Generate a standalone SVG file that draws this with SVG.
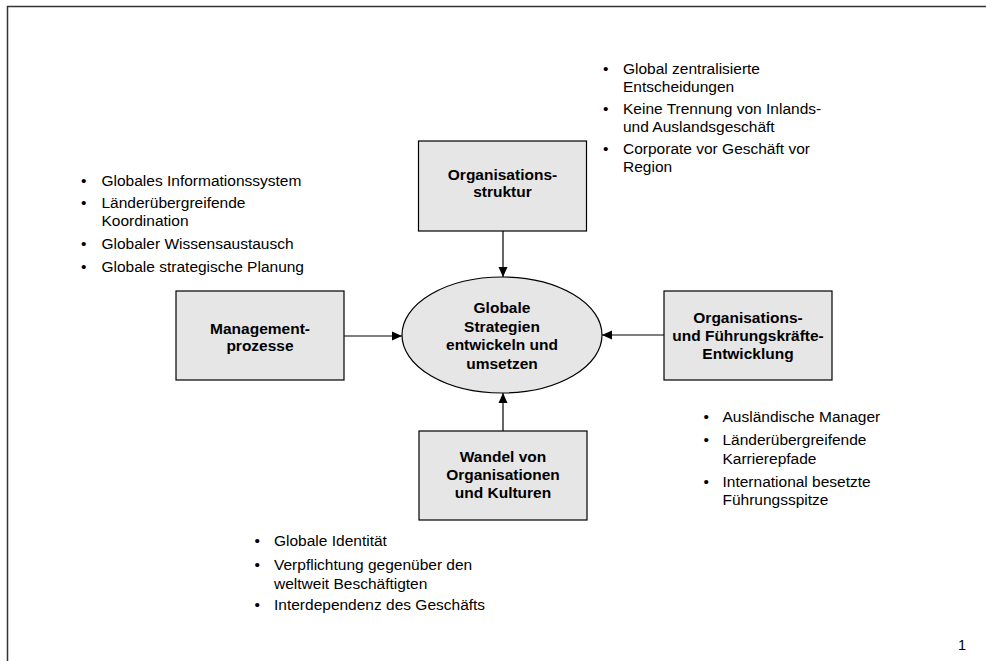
<svg xmlns="http://www.w3.org/2000/svg" width="986" height="661" viewBox="0 0 986 661">
<style>
.box{fill:#e6e6e6;stroke:#000;stroke-width:1.2}
.lbl{font-family:"Liberation Sans",Arial,sans-serif;font-weight:bold;font-size:15.5px;fill:#000;text-anchor:middle}
.bl{font-family:"Liberation Sans",Arial,sans-serif;font-size:15.5px;fill:#000}
.con{stroke:#000;stroke-width:1.2;fill:none;marker-end:url(#ah)}
</style>
<defs>
<marker id="ah" viewBox="0 0 10 10" refX="10" refY="5" markerWidth="10" markerHeight="10" markerUnits="userSpaceOnUse" orient="auto">
<path d="M0,0.5 L10,5 L0,9.5 Z" fill="#000"/>
</marker>
</defs>
<rect width="986" height="661" fill="#fff"/>
<path d="M7.5,661 V6.5 H986" fill="none" stroke="#333" stroke-width="1.5"/>

<g id="connectors">
<line class="con" x1="503" y1="231" x2="503" y2="277"/>
<line class="con" x1="344" y1="336" x2="402" y2="336"/>
<line class="con" x1="664" y1="335" x2="602" y2="335"/>
<line class="con" x1="503" y1="431" x2="503" y2="393"/>
</g>

<g id="center">
<ellipse cx="502" cy="335" rx="100" ry="58" class="box"/>
<text class="lbl" x="502" y="313">Globale</text>
<text class="lbl" x="502" y="331.5">Strategien</text>
<text class="lbl" x="502" y="350">entwickeln und</text>
<text class="lbl" x="502" y="368.5">umsetzen</text>
</g>

<g id="organisationsstruktur">
<rect x="418.5" y="141" width="168" height="90" class="box"/>
<text class="lbl" x="502.5" y="180">Organisations-</text>
<text class="lbl" x="502.5" y="197">struktur</text>
</g>

<g id="managementprozesse">
<rect x="176" y="291" width="168" height="89" class="box"/>
<text class="lbl" x="260" y="334">Management-</text>
<text class="lbl" x="260" y="351">prozesse</text>
</g>

<g id="fuehrungskraefte">
<rect x="664" y="291" width="168" height="89" class="box"/>
<text class="lbl" x="748" y="322.5">Organisations-</text>
<text class="lbl" x="748" y="340.5">und Führungskräfte-</text>
<text class="lbl" x="748" y="358.5">Entwicklung</text>
</g>

<g id="wandel">
<rect x="419" y="431" width="168" height="89" class="box"/>
<text class="lbl" x="503" y="462">Wandel von</text>
<text class="lbl" x="503" y="480">Organisationen</text>
<text class="lbl" x="503" y="498">und Kulturen</text>
</g>

<g id="bullets-top">
<text class="bl" x="603" y="73.5">•</text>
<text class="bl" x="623" y="73.5">Global zentralisierte</text>
<text class="bl" x="623" y="91.5">Entscheidungen</text>
<text class="bl" x="603" y="113.5">•</text>
<text class="bl" x="623" y="113.5">Keine Trennung von Inlands-</text>
<text class="bl" x="623" y="131.5">und Auslandsgeschäft</text>
<text class="bl" x="603" y="153.5">•</text>
<text class="bl" x="623" y="153.5">Corporate vor Geschäft vor</text>
<text class="bl" x="623" y="171.5">Region</text>
</g>

<g id="bullets-left">
<text class="bl" x="81" y="185.5">•</text>
<text class="bl" x="101.5" y="185.5">Globales Informationssystem</text>
<text class="bl" x="81" y="208">•</text>
<text class="bl" x="101.5" y="208">Länderübergreifende</text>
<text class="bl" x="101.5" y="226">Koordination</text>
<text class="bl" x="81" y="249">•</text>
<text class="bl" x="101.5" y="249">Globaler Wissensaustausch</text>
<text class="bl" x="81" y="271.5">•</text>
<text class="bl" x="101.5" y="271.5">Globale strategische Planung</text>
</g>

<g id="bullets-right">
<text class="bl" x="703.5" y="421.5">•</text>
<text class="bl" x="722.5" y="421.5">Ausländische Manager</text>
<text class="bl" x="703.5" y="445">•</text>
<text class="bl" x="722.5" y="445">Länderübergreifende</text>
<text class="bl" x="722.5" y="463.5">Karrierepfade</text>
<text class="bl" x="703.5" y="486.5">•</text>
<text class="bl" x="722.5" y="486.5">International besetzte</text>
<text class="bl" x="722.5" y="504.5">Führungsspitze</text>
</g>

<g id="bullets-bottom">
<text class="bl" x="254.5" y="546">•</text>
<text class="bl" x="274" y="546">Globale Identität</text>
<text class="bl" x="254.5" y="570">•</text>
<text class="bl" x="274" y="570">Verpflichtung gegenüber den</text>
<text class="bl" x="274" y="588.5">weltweit Beschäftigten</text>
<text class="bl" x="254.5" y="610">•</text>
<text class="bl" x="274" y="610">Interdependenz des Geschäfts</text>
</g>

<text class="bl" x="958" y="650" style="font-size:14.5px">1</text>
</svg>
